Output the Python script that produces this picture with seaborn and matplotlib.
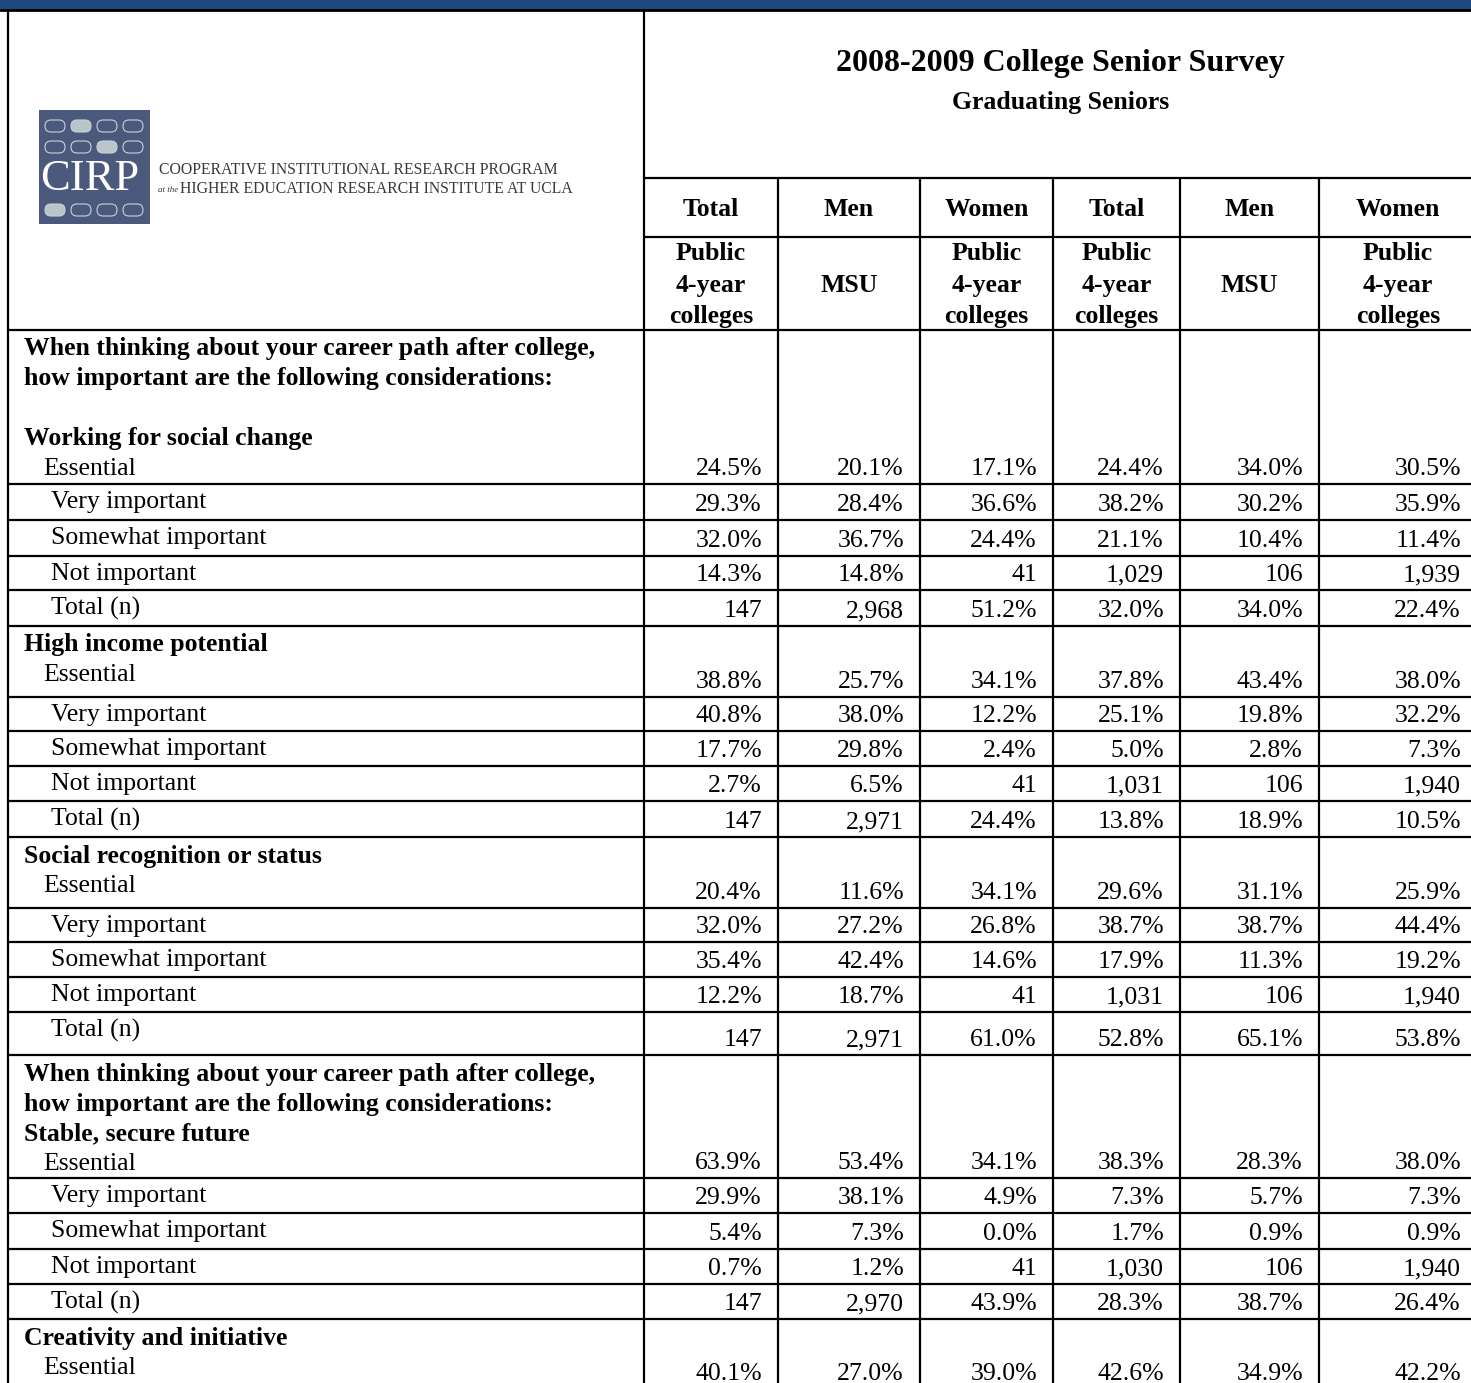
import numpy as np
import pandas as pd
import seaborn as sns
import matplotlib.pyplot as plt
from matplotlib.patches import Rectangle, FancyBboxPatch

sns.set_theme(style="white")
plt.rcParams['font.family'] = ['Liberation Serif', 'DejaVu Serif']
plt.rcParams['text.color'] = 'black'

# ---- table content ----
title = "2008-2009 College Senior Survey"
subtitle = "Graduating Seniors"
col_groups = ["Total", "Men", "Women", "Total", "Men", "Women"]
col_subs = ["Public\n4-year\ncolleges", "MSU", "Public\n4-year\ncolleges",
            "Public\n4-year\ncolleges", "MSU", "Public\n4-year\ncolleges"]
answers = ["Essential", "Very important", "Somewhat important", "Not important", "Total (n)"]

intro = ["When thinking about your career path after college,",
         "how important are the following considerations:"]

social_change = [
    ["24.5%", "20.1%", "17.1%", "24.4%", "34.0%", "30.5%"],
    ["29.3%", "28.4%", "36.6%", "38.2%", "30.2%", "35.9%"],
    ["32.0%", "36.7%", "24.4%", "21.1%", "10.4%", "11.4%"],
    ["14.3%", "14.8%", "41", "1,029", "106", "1,939"],
    ["147", "2,968", "51.2%", "32.0%", "34.0%", "22.4%"],
]
high_income = [
    ["38.8%", "25.7%", "34.1%", "37.8%", "43.4%", "38.0%"],
    ["40.8%", "38.0%", "12.2%", "25.1%", "19.8%", "32.2%"],
    ["17.7%", "29.8%", "2.4%", "5.0%", "2.8%", "7.3%"],
    ["2.7%", "6.5%", "41", "1,031", "106", "1,940"],
    ["147", "2,971", "24.4%", "13.8%", "18.9%", "10.5%"],
]
social_recognition = [
    ["20.4%", "11.6%", "34.1%", "29.6%", "31.1%", "25.9%"],
    ["32.0%", "27.2%", "26.8%", "38.7%", "38.7%", "44.4%"],
    ["35.4%", "42.4%", "14.6%", "17.9%", "11.3%", "19.2%"],
    ["12.2%", "18.7%", "41", "1,031", "106", "1,940"],
    ["147", "2,971", "61.0%", "52.8%", "65.1%", "53.8%"],
]
stable_future = [
    ["63.9%", "53.4%", "34.1%", "38.3%", "28.3%", "38.0%"],
    ["29.9%", "38.1%", "4.9%", "7.3%", "5.7%", "7.3%"],
    ["5.4%", "7.3%", "0.0%", "1.7%", "0.9%", "0.9%"],
    ["0.7%", "1.2%", "41", "1,030", "106", "1,940"],
    ["147", "2,970", "43.9%", "28.3%", "38.7%", "26.4%"],
]
creativity = [
    ["40.1%", "27.0%", "39.0%", "42.6%", "34.9%", "42.2%"],
]

sections = [
    (intro + ["", "Working for social change"], social_change, 154, [36, 36, 34, 36]),
    (["High income potential"], high_income, 71, [34, 35, 35, 36]),
    (["Social recognition or status"], social_recognition, 71, [34, 35, 35, 43]),
    (intro + ["Stable, secure future"], stable_future, 123, [35, 36, 35, 35]),
    (["Creativity and initiative"], creativity, 70, []),
]

# ---- layout (pixels) ----
W, H = 1471, 1383
col_edges = [644, 778, 920, 1053, 1180, 1319, 1477]
left, top = 8, 10
fs = 18.5
lw = 1.6

fig = plt.figure(figsize=(W / 100, H / 100), dpi=100)
ax = fig.add_axes([0, 0, 1, 1])
ax.set_xlim(0, W)
ax.set_ylim(H, 0)
ax.axis("off")

# blue band and frame
ax.add_patch(Rectangle((0, 0), W, top, color="#1f497d", lw=0))
ax.plot([0, W], [top, top], color="black", lw=2)
ax.plot([left, left], [top, H], color="black", lw=lw)
ax.plot([col_edges[0], col_edges[0]], [top, H], color="black", lw=lw)
for x in col_edges[1:-1]:
    ax.plot([x, x], [178, H], color="black", lw=lw)
for y in [178, 237]:
    ax.plot([col_edges[0], W], [y, y], color="black", lw=lw)
ax.plot([left, W], [330, 330], color="black", lw=lw)

# logo
ax.add_patch(Rectangle((39, 110), 111, 114, color="#4b5a7c", lw=0))
pill_x = [55, 81, 107, 133]
pill_y = [126, 147, 210]
filled = {(0, 1), (1, 2), (2, 0)}
for r, py in enumerate(pill_y):
    for c, px in enumerate(pill_x):
        fc = "#b9c5c9" if (r, c) in filled else "none"
        ax.add_patch(FancyBboxPatch((px - 10, py - 6), 20, 12,
                                    boxstyle="round,pad=0,rounding_size=6",
                                    fc=fc, ec="#c9d1da", lw=0.8))
ax.text(90, 179, "CIRP", color="white", fontsize=32, ha="center", va="center")
ax.text(159, 170, "COOPERATIVE INSTITUTIONAL RESEARCH PROGRAM", color="#3a3a3a",
        fontsize=11.3, ha="left", va="center")
ax.text(158, 190, "at the", color="#3a3a3a", fontsize=6.5, style="italic",
        ha="left", va="center")
ax.text(180, 189, "HIGHER EDUCATION RESEARCH INSTITUTE AT UCLA", color="#3a3a3a",
        fontsize=11.3, ha="left", va="center")

# title
mid = (col_edges[0] + col_edges[-1]) / 2
ax.text(mid, 63, title, fontsize=23, fontweight="bold", ha="center", va="center")
ax.text(mid, 102, subtitle, fontsize=18.5, fontweight="bold", ha="center", va="center")

# column headers
centers = [(a + b) / 2 for a, b in zip(col_edges[:-1], col_edges[1:])]
for cx, g, s in zip(centers, col_groups, col_subs):
    ax.text(cx, 209, g, fontsize=fs, fontweight="bold", ha="center", va="center")
    lines = s.split("\n")
    if len(lines) == 1:
        ax.text(cx, 286, lines[0], fontsize=fs, fontweight="bold", ha="center", va="center")
    else:
        for k, t in enumerate(lines):
            ax.text(cx, 254 + 31.5 * k, t, fontsize=fs, fontweight="bold",
                    ha="center", va="center")

right_anchor = [e - 16 for e in col_edges[1:]]

# body
y0 = 330
for heads, vals, block_h, sub_h in sections:
    # heading block with "Essential"
    for k, t in enumerate(heads):
        ax.text(24, y0 + 19 + 30 * k, t, fontsize=fs, fontweight="bold",
                ha="left", va="center")
    ax.text(43, y0 + 19 + 30 * len(heads), answers[0], fontsize=fs,
            ha="left", va="center")
    y1 = y0 + block_h
    for xr, v in zip(right_anchor, vals[0]):
        ax.text(xr, y1 - 15, v, fontsize=fs, ha="right", va="center")
    ax.plot([left, W], [y1, y1], color="black", lw=lw)
    y0 = y1
    for i, h in enumerate(sub_h):
        y1 = y0 + h
        ax.text(51, y0 + 18, answers[i + 1], fontsize=fs, ha="left", va="center")
        for xr, v in zip(right_anchor, vals[i + 1]):
            ax.text(xr, y1 - 15, v, fontsize=fs, ha="right", va="center")
        ax.plot([left, W], [y1, y1], color="black", lw=lw)
        y0 = y1

fig.savefig("out.png", dpi=100, facecolor="white")
